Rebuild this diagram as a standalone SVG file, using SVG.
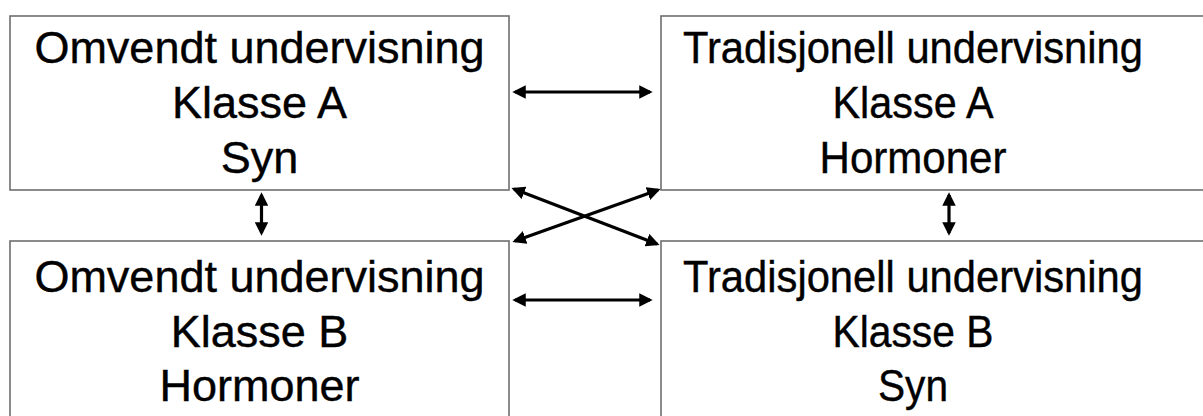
<svg xmlns="http://www.w3.org/2000/svg" width="1203" height="416" viewBox="0 0 1203 416">
  <style>
    .box { fill: #ffffff; stroke: #6e6e6e; stroke-width: 1.6; }
    .lbl { font-family: "Liberation Sans", Arial, sans-serif; font-size: 45px; fill: #000000; stroke: #000000; stroke-width: 0.4; text-anchor: middle; }
    .conn { stroke: #000000; stroke-width: 3.2; fill: none; marker-start: url(#head); marker-end: url(#head); }
  </style>
  <defs>
    <marker id="head" viewBox="0 0 10 10" refX="8" refY="5" markerWidth="4.2" markerHeight="4.2" orient="auto-start-reverse" markerUnits="strokeWidth">
      <path d="M0,0 L10,5 L0,10 Z" fill="#000000"/>
    </marker>
  </defs>
  <rect width="1203" height="416" fill="#ffffff"/>

  <g id="node-omvendt-a">
    <rect class="box" x="10" y="16" width="499" height="174"/>
    <text class="lbl" x="259.5" y="63">Omvendt undervisning</text>
    <text class="lbl" x="259.5" y="118">Klasse A</text>
    <text class="lbl" x="259.5" y="173">Syn</text>
  </g>

  <g id="node-tradisjonell-a">
    <rect class="box" x="661" y="16" width="560" height="174"/>
    <text class="lbl" x="913" y="63" textLength="460" lengthAdjust="spacingAndGlyphs">Tradisjonell undervisning</text>
    <text class="lbl" x="913" y="118" textLength="161" lengthAdjust="spacingAndGlyphs">Klasse A</text>
    <text class="lbl" x="913" y="173" textLength="187" lengthAdjust="spacingAndGlyphs">Hormoner</text>
  </g>

  <g id="node-omvendt-b">
    <rect class="box" x="10" y="241" width="499" height="190"/>
    <text class="lbl" x="259.5" y="292">Omvendt undervisning</text>
    <text class="lbl" x="259.5" y="347">Klasse B</text>
    <text class="lbl" x="259.5" y="401">Hormoner</text>
  </g>

  <g id="node-tradisjonell-b">
    <rect class="box" x="661" y="241" width="560" height="190"/>
    <text class="lbl" x="913" y="292" textLength="460" lengthAdjust="spacingAndGlyphs">Tradisjonell undervisning</text>
    <text class="lbl" x="913" y="347" textLength="161" lengthAdjust="spacingAndGlyphs">Klasse B</text>
    <text class="lbl" x="913" y="401" textLength="70" lengthAdjust="spacingAndGlyphs">Syn</text>
  </g>

  <g id="connectors">
    <line class="conn" x1="515" y1="92" x2="650" y2="92"/>
    <line class="conn" x1="515" y1="300" x2="650" y2="300"/>
    <line class="conn" x1="514" y1="189" x2="657" y2="244"/>
    <line class="conn" x1="515" y1="241" x2="658" y2="190"/>
    <line class="conn" x1="261.5" y1="195" x2="261.5" y2="233"/>
    <line class="conn" x1="949" y1="195" x2="949" y2="233"/>
  </g>
</svg>
